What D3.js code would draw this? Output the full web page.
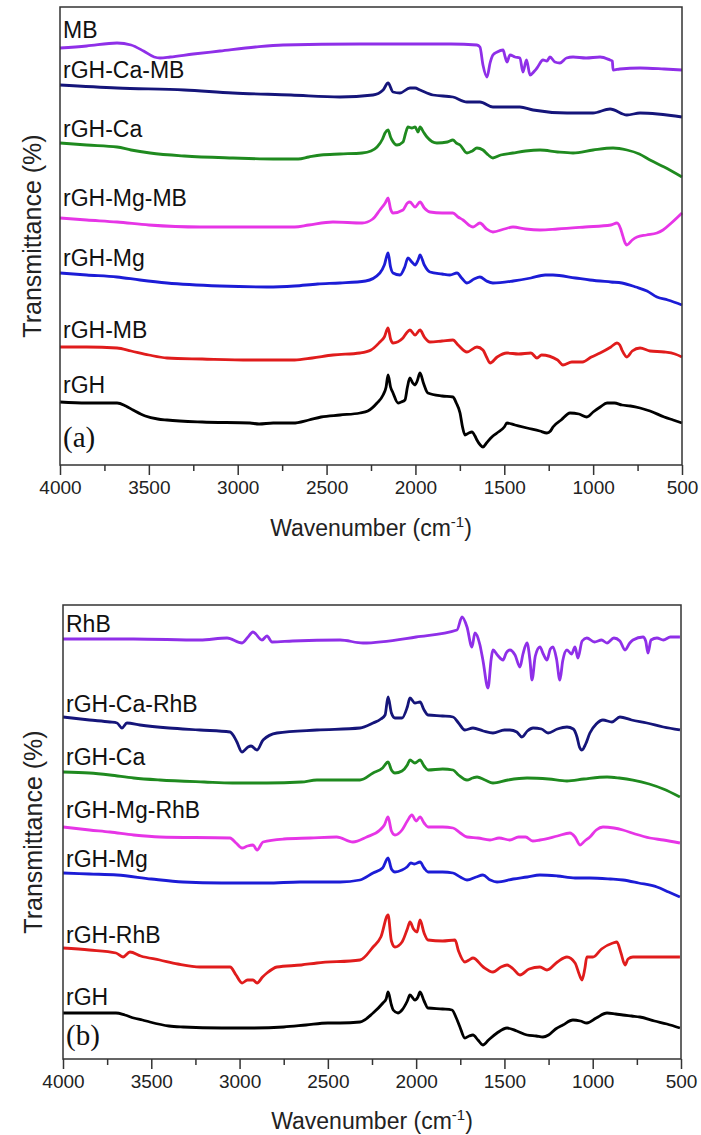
<!DOCTYPE html>
<html>
<head>
<meta charset="utf-8">
<script src="https://cdn.jsdelivr.net/npm/d3@7"></script>
<style>
  body { margin: 0; background: #fff; }
  svg { display: block; }
</style>
</head>
<body>
<svg id="chart" width="701" height="1135"></svg>
<script>
// x ticks shared by both panels
const majorTicks = [4000, 3500, 3000, 2500, 2000, 1500, 1000, 500];
const minorTicks = [3750, 3250, 2750, 2250, 1750, 1250, 750];

// ---- panel (a): [wavenumber, transmittance (a.u., stacked)] ----
const MB = [[4000,417],[3850,419],[3679,422],[3600,420],[3530,414],[3470,408],[3437,407],[3380,408],[3250,411],[3100,414],[2900,418],[2745,420],[2312,421],[1800,421],[1654,420],[1637,418],[1620,400],[1597,388],[1580,402],[1564,410],[1540,413],[1507,415],[1495,408],[1485,403],[1468,410],[1440,408],[1412,407],[1395,393],[1375,405],[1355,390],[1330,394],[1316,397],[1282,405],[1260,404],[1243,408],[1215,403],[1187,402],[1150,407],[1113,408],[1040,407],[961,408],[905,405],[892,404],[888,395],[850,396],[736,397],[600,396],[500,395]];
const rGH_Ca_MB = [[4000,380],[3679,377],[3300,375],[3027,372],[2700,370],[2425,368],[2239,370],[2182,375],[2154,382],[2126,373],[2087,372],[2031,377],[2002,377],[1974,375],[1901,370],[1789,368],[1710,363],[1637,363],[1564,358],[1412,358],[1338,355],[1147,352],[1001,352],[905,356],[810,350],[736,352],[500,348]];
const rGH_Ca_a = [[4000,322],[3850,320],[3679,318],[3600,315],[3493,312],[3300,309],[3027,307],[2800,306],[2660,306],[2600,308],[2531,310],[2425,311],[2300,312],[2250,314],[2216,318],[2185,326],[2171,332],[2154,335],[2140,328],[2132,325],[2104,320],[2070,323],[2055,332],[2042,338],[2020,337],[2002,338],[1985,333],[1974,338],[1955,333],[1935,328],[1879,322],[1820,323],[1789,325],[1770,322],[1749,320],[1710,312],[1680,314],[1654,317],[1620,315],[1590,310],[1564,307],[1520,310],[1451,312],[1380,314],[1299,315],[1200,313],[1113,312],[1000,315],[888,317],[810,315],[740,311],[680,305],[600,298],[500,288]];
const rGH_Mg_MB = [[4000,247],[3850,245],[3679,243],[3500,240],[3212,238],[2680,238],[2600,240],[2464,243],[2300,242],[2240,246],[2200,255],[2170,262],[2154,267],[2140,256],[2126,252],[2070,255],[2045,262],[2031,263],[2002,258],[1974,263],[1950,257],[1918,253],[1850,252],[1789,252],[1760,248],[1732,245],[1700,240],[1676,238],[1637,242],[1600,236],[1564,233],[1500,236],[1451,238],[1380,236],[1299,235],[1200,236],[1045,238],[900,240],[866,242],[845,236],[838,232],[820,222],[810,220],[780,225],[753,228],[700,230],[641,232],[607,235],[560,242],[500,252]];
const rGH_Mg_a = [[4000,192],[3850,190],[3679,188],[3550,185],[3398,182],[3100,179],[2835,178],[2680,179],[2550,181],[2425,182],[2280,184],[2200,192],[2175,200],[2154,212],[2140,198],[2126,192],[2087,190],[2060,198],[2042,207],[2020,203],[2002,200],[1985,205],[1974,210],[1950,200],[1918,193],[1850,191],[1806,190],[1766,192],[1740,187],[1710,182],[1670,186],[1637,188],[1600,184],[1564,182],[1450,184],[1350,187],[1270,190],[1226,190],[1100,187],[1018,185],[900,183],[838,182],[760,178],[697,174],[641,168],[580,165],[500,160]];
const rGH_MB = [[4000,118],[3850,118],[3679,117],[3600,114],[3500,110],[3398,107],[3200,106],[2931,105],[2680,105],[2580,107],[2464,110],[2312,112],[2250,115],[2200,123],[2175,128],[2154,137],[2140,126],[2126,122],[2070,127],[2050,132],[2031,135],[2002,130],[1974,135],[1950,128],[1918,123],[1850,124],[1789,125],[1760,120],[1710,113],[1654,118],[1620,115],[1600,108],[1580,102],[1540,108],[1485,112],[1420,111],[1350,112],[1316,107],[1290,110],[1200,105],[1170,100],[1120,103],[1060,103],[1010,108],[961,112],[900,118],[866,122],[850,120],[838,115],[810,108],[780,114],[736,117],[680,114],[600,113],[540,111],[500,108]];
const rGH_a = [[4000,63],[3850,62],[3679,62],[3630,59],[3589,55],[3520,49],[3450,46],[3398,45],[3200,43],[2931,42],[2880,41],[2800,42],[2689,42],[2600,45],[2531,48],[2425,50],[2312,52],[2268,54],[2216,62],[2182,70],[2165,78],[2154,90],[2140,78],[2126,72],[2098,62],[2080,63],[2059,65],[2045,78],[2031,87],[2015,82],[2002,80],[1990,84],[1974,92],[1955,82],[1930,72],[1850,69],[1789,68],[1770,62],[1749,52],[1735,38],[1721,30],[1700,32],[1682,33],[1665,29],[1654,25],[1635,20],[1620,18],[1600,22],[1570,28],[1541,32],[1500,38],[1485,42],[1440,40],[1372,37],[1300,34],[1260,32],[1240,34],[1226,38],[1180,45],[1130,52],[1080,51],[1035,48],[1000,53],[960,58],[922,62],[880,62],[838,60],[790,59],[736,57],[680,54],[600,48],[550,45],[500,42]];

// ---- panel (b) ----
const RhB = [[4000,420],[3600,420],[3224,419],[3071,421],[2986,416],[2952,422],[2924,427],[2873,419],[2845,423],[2816,417],[2700,418],[2431,419],[2301,416],[2000,422],[1769,429],[1740,442],[1712,432],[1684,412],[1667,426],[1640,415],[1622,399],[1593,371],[1575,400],[1565,409],[1540,404],[1508,399],[1490,406],[1469,409],[1440,404],[1412,392],[1395,405],[1372,416],[1355,398],[1344,379],[1325,403],[1299,412],[1280,405],[1259,399],[1240,410],[1225,412],[1205,400],[1186,379],[1170,398],[1146,409],[1120,405],[1100,412],[1084,401],[1060,418],[1033,421],[990,417],[950,419],[919,416],[880,421],[846,418],[817,409],[790,416],[772,419],[715,422],[700,418],[687,406],[670,419],[636,421],[600,419],[560,422],[506,422]];
const rGH_Ca_RhB = [[4000,342],[3850,339],[3734,337],[3694,336],[3666,331],[3638,336],[3564,334],[3400,331],[3224,329],[3054,327],[3030,322],[3015,317],[2986,307],[2952,312],[2935,313],[2901,309],[2867,319],[2788,326],[2562,329],[2318,331],[2244,336],[2200,340],[2176,344],[2159,362],[2140,346],[2120,341],[2080,341],[2050,352],[2035,361],[2007,356],[1978,357],[1955,349],[1933,344],[1850,343],[1791,342],[1760,336],[1724,329],[1678,331],[1620,328],[1565,326],[1500,329],[1469,329],[1430,327],[1401,322],[1370,328],[1338,331],[1290,330],[1253,326],[1200,330],[1146,332],[1110,330],[1089,322],[1075,312],[1061,309],[1040,315],[1016,326],[980,335],[942,339],[891,337],[846,342],[780,339],[693,336],[600,332],[506,329]];
const rGH_Ca_b = [[4000,287],[3850,286],[3734,284],[3600,281],[3452,279],[3200,277],[3040,276],[2845,276],[2650,277],[2562,279],[2431,279],[2318,279],[2244,286],[2190,291],[2159,297],[2140,289],[2120,286],[2080,288],[2050,294],[2035,299],[2007,296],[1978,299],[1955,293],[1933,289],[1850,290],[1791,289],[1760,284],[1712,279],[1680,281],[1655,282],[1610,279],[1565,276],[1480,279],[1372,281],[1250,280],[1146,278],[1050,280],[919,282],[850,281],[772,279],[680,275],[600,270],[506,262]];
const rGH_Mg_RhB = [[4000,232],[3850,229],[3734,227],[3600,224],[3452,222],[3054,221],[3020,216],[2986,211],[2955,213],[2924,214],[2901,209],[2867,217],[2750,220],[2600,221],[2450,222],[2358,217],[2280,222],[2205,229],[2180,234],[2159,242],[2140,228],[2120,224],[2080,229],[2050,238],[2024,244],[2000,238],[1978,242],[1955,236],[1933,232],[1850,232],[1791,231],[1750,226],[1712,222],[1650,221],[1582,219],[1530,221],[1469,219],[1420,222],[1380,222],[1340,218],[1299,219],[1200,223],[1129,226],[1100,222],[1072,214],[1045,218],[1016,222],[980,229],[942,232],[880,231],[829,229],[760,225],[676,221],[600,219],[506,216]];
const rGH_Mg_b = [[4000,186],[3850,185],[3694,184],[3500,180],[3320,177],[3100,176],[2845,176],[2658,177],[2431,177],[2318,179],[2244,186],[2190,191],[2159,201],[2140,190],[2120,187],[2080,189],[2052,192],[2030,196],[2010,195],[1978,197],[1955,191],[1933,187],[1850,187],[1791,186],[1750,182],[1712,179],[1660,182],[1622,184],[1580,179],[1542,177],[1450,180],[1370,182],[1299,184],[1200,183],[1100,181],[1016,181],[900,180],[829,179],[740,176],[636,172],[570,167],[506,162]];
const rGH_RhB = [[4000,111],[3850,109],[3700,106],[3660,102],[3621,107],[3560,103],[3452,99],[3350,95],[3224,92],[3054,92],[3020,84],[2986,76],[2955,79],[2924,79],[2901,76],[2870,82],[2845,86],[2788,92],[2650,94],[2562,96],[2318,99],[2244,112],[2200,122],[2159,144],[2140,118],[2120,112],[2080,117],[2050,130],[2035,137],[2015,130],[1995,127],[1978,139],[1955,126],[1933,119],[1850,118],[1780,119],[1760,108],[1724,97],[1700,99],[1678,101],[1620,92],[1565,87],[1520,92],[1485,94],[1450,90],[1412,84],[1360,90],[1299,92],[1259,89],[1200,97],[1146,102],[1100,96],[1075,84],[1061,79],[1045,90],[1033,102],[999,102],[950,110],[886,116],[863,117],[840,106],[817,94],[800,100],[772,102],[700,102],[600,102],[506,102]];
const rGH_b = [[4000,46],[3850,46],[3700,46],[3650,44],[3600,41],[3550,39],[3508,37],[3400,33],[3320,32],[3100,31],[2924,31],[2750,32],[2624,34],[2500,36],[2431,36],[2318,37],[2244,46],[2188,56],[2170,60],[2159,67],[2140,54],[2130,49],[2103,46],[2080,49],[2050,58],[2035,64],[2007,59],[1990,62],[1978,67],[1955,58],[1933,51],[1850,50],[1797,49],[1775,42],[1752,32],[1724,21],[1700,23],[1678,24],[1650,19],[1622,14],[1590,19],[1542,26],[1485,31],[1430,28],[1372,24],[1320,23],[1282,22],[1250,24],[1210,30],[1169,34],[1112,39],[1070,38],[1033,36],[980,41],[919,46],[870,45],[829,44],[780,43],[733,42],[650,38],[580,35],[506,31]];

const seriesA = [
  {name: "MB", data: MB, color: "#8f2fe8", ly: 38},
  {name: "rGH-Ca-MB", data: rGH_Ca_MB, color: "#15157a", ly: 78},
  {name: "rGH-Ca", data: rGH_Ca_a, color: "#1f8a1f", ly: 137},
  {name: "rGH-Mg-MB", data: rGH_Mg_MB, color: "#e635e6", ly: 206},
  {name: "rGH-Mg", data: rGH_Mg_a, color: "#1c1cd6", ly: 266},
  {name: "rGH-MB", data: rGH_MB, color: "#e01c1c", ly: 338},
  {name: "rGH", data: rGH_a, color: "#000000", ly: 393}
];
const seriesB = [
  {name: "RhB", data: RhB, color: "#8f2fe8", ly: 632},
  {name: "rGH-Ca-RhB", data: rGH_Ca_RhB, color: "#15157a", ly: 712},
  {name: "rGH-Ca", data: rGH_Ca_b, color: "#1f8a1f", ly: 765},
  {name: "rGH-Mg-RhB", data: rGH_Mg_RhB, color: "#e635e6", ly: 818},
  {name: "rGH-Mg", data: rGH_Mg_b, color: "#1c1cd6", ly: 867},
  {name: "rGH-RhB", data: rGH_RhB, color: "#e01c1c", ly: 943},
  {name: "rGH", data: rGH_b, color: "#000000", ly: 1005}
];

const svg = d3.select("#chart");

function drawPanel(cfg) {
  const x = d3.scaleLinear().domain([4000, 500]).range([cfg.left, cfg.right]);
  const y = d3.scaleLinear().domain([0, cfg.bottom - cfg.top]).range([cfg.bottom, cfg.top]);
  const g = svg.append("g");

  const line = d3.line()
    .curve(d3.curveMonotoneX)
    .x(d => x(d[0]))
    .y(d => y(d[1]));

  g.selectAll(".curve")
    .data(cfg.series)
    .enter().append("path")
    .attr("class", "curve")
    .attr("d", d => line(d.data))
    .attr("fill", "none")
    .attr("stroke", d => d.color)
    .attr("stroke-width", 2.8)
    .attr("stroke-linejoin", "round");

  g.selectAll(".lbl")
    .data(cfg.series)
    .enter().append("text")
    .attr("class", "lbl")
    .attr("x", cfg.left + 3)
    .attr("y", d => d.ly)
    .attr("font-family", "Liberation Sans, Arial, sans-serif")
    .attr("font-size", 23)
    .attr("fill", "#111")
    .text(d => d.name);

  // frame
  g.append("rect")
    .attr("x", cfg.left).attr("y", cfg.top)
    .attr("width", cfg.right - cfg.left).attr("height", cfg.bottom - cfg.top)
    .attr("fill", "none").attr("stroke", "#333").attr("stroke-width", 1.5);

  // bottom axis, outward ticks
  const ax = g.append("g")
    .attr("transform", "translate(0," + cfg.bottom + ")")
    .call(d3.axisBottom(x).tickValues(majorTicks).tickSize(10).tickPadding(6).tickFormat(d3.format("d")));
  ax.select(".domain").remove();
  ax.selectAll("line").attr("stroke", "#333").attr("stroke-width", 1.5);
  ax.selectAll("text")
    .attr("font-family", "Liberation Sans, Arial, sans-serif")
    .attr("font-size", 19)
    .attr("fill", "#222");

  g.append("g")
    .attr("transform", "translate(0," + cfg.bottom + ")")
    .call(d3.axisBottom(x).tickValues(minorTicks).tickSize(6).tickFormat(""))
    .call(s => s.select(".domain").remove())
    .selectAll("line").attr("stroke", "#333").attr("stroke-width", 1.5);

  // panel tag
  g.append("text")
    .attr("x", cfg.left + 3)
    .attr("y", cfg.tagY)
    .attr("font-family", "Liberation Serif, Times New Roman, serif")
    .attr("font-size", 29)
    .attr("fill", "#111")
    .text(cfg.tag);

  // axis titles
  const xt = g.append("text")
    .attr("x", (cfg.left + cfg.right) / 2)
    .attr("y", cfg.xTitleY)
    .attr("text-anchor", "middle")
    .attr("font-family", "Liberation Sans, Arial, sans-serif")
    .attr("font-size", 23)
    .attr("fill", "#222");
  xt.append("tspan").text("Wavenumber (cm");
  xt.append("tspan").attr("dy", -9).attr("font-size", 15).text("-1");
  xt.append("tspan").attr("dy", 9).text(")");

  g.append("text")
    .attr("transform", "translate(" + cfg.yTitleX + "," + ((cfg.top + cfg.bottom) / 2) + ") rotate(-90)")
    .attr("text-anchor", "middle")
    .attr("font-family", "Liberation Sans, Arial, sans-serif")
    .attr("font-size", 25)
    .attr("fill", "#222")
    .text("Transmittance (%)");
}

drawPanel({series: seriesA, left: 60, right: 682, top: 7, bottom: 465, tag: "(a)", tagY: 447, xTitleY: 536, yTitleX: 41});
drawPanel({series: seriesB, left: 63, right: 681, top: 605, bottom: 1059, tag: "(b)", tagY: 1045, xTitleY: 1129, yTitleX: 42});
</script>
</body>
</html>
